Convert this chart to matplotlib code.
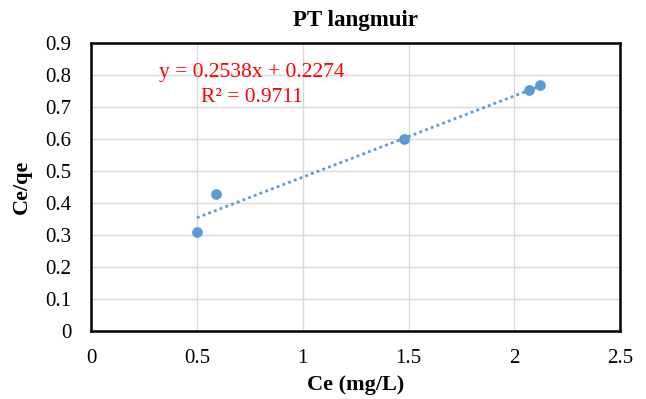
import numpy as np
import matplotlib.pyplot as plt

# Data
ce = [0.50, 0.59, 1.48, 2.07, 2.12]
ce_qe = [0.31, 0.43, 0.60, 0.755, 0.768]
slope = 0.2538
intercept = 0.2274
eq_text = 'y = 0.2538x + 0.2274'
r2_text = 'R² = 0.9711'
x_ticks = [0, 0.5, 1, 1.5, 2, 2.5]
x_tick_labels = ['0', '0.5', '1', '1.5', '2', '2.5']
y_ticks = [0, 0.1, 0.2, 0.3, 0.4, 0.5, 0.6, 0.7, 0.8, 0.9]

plt.rcParams['font.family'] = ['Liberation Serif', 'DejaVu Serif']

fig = plt.figure(figsize=(6.46, 3.99), dpi=100)
ax = fig.add_axes([0.141, 0.170, 0.819, 0.722])

# Trendline
x_fit = np.array([min(ce), max(ce)])
ax.plot(x_fit, slope * x_fit + intercept, linestyle=(0, (1, 1.2)), color='#5B9BD5',
        linewidth=2, zorder=2)
ax.scatter(ce, ce_qe, s=45, color='#5B9BD5', zorder=3)

ax.text(0.76, 0.809, eq_text, color='#FF0000', fontsize=15.5, ha='center', va='center')
ax.text(0.76, 0.73, r2_text, color='#FF0000', fontsize=15.5, ha='center', va='center')

ax.set_xlim(0, 2.5)
ax.set_ylim(0, 0.9)
ax.set_xticks(x_ticks)
ax.set_xticklabels(x_tick_labels)
ax.set_yticks(y_ticks)
ax.set_yticklabels([f'{v:g}' for v in y_ticks])
ax.tick_params(length=0, labelsize=15)
ax.tick_params(axis='x', pad=13)
ax.tick_params(axis='y', pad=14)
ax.grid(True, color='#D9D9D9', linewidth=1)
ax.set_axisbelow(True)
for sp in ax.spines.values():
    sp.set_linewidth(1.8)
    sp.set_color('black')

ax.set_title('PT langmuir', fontsize=16.5, fontweight='bold', pad=12)
ax.set_xlabel('Ce (mg/L)', fontsize=16, fontweight='bold', labelpad=5)
ax.set_ylabel('Ce/qe', fontsize=16, fontweight='bold', labelpad=10)

fig.savefig('out.png', dpi=100)
